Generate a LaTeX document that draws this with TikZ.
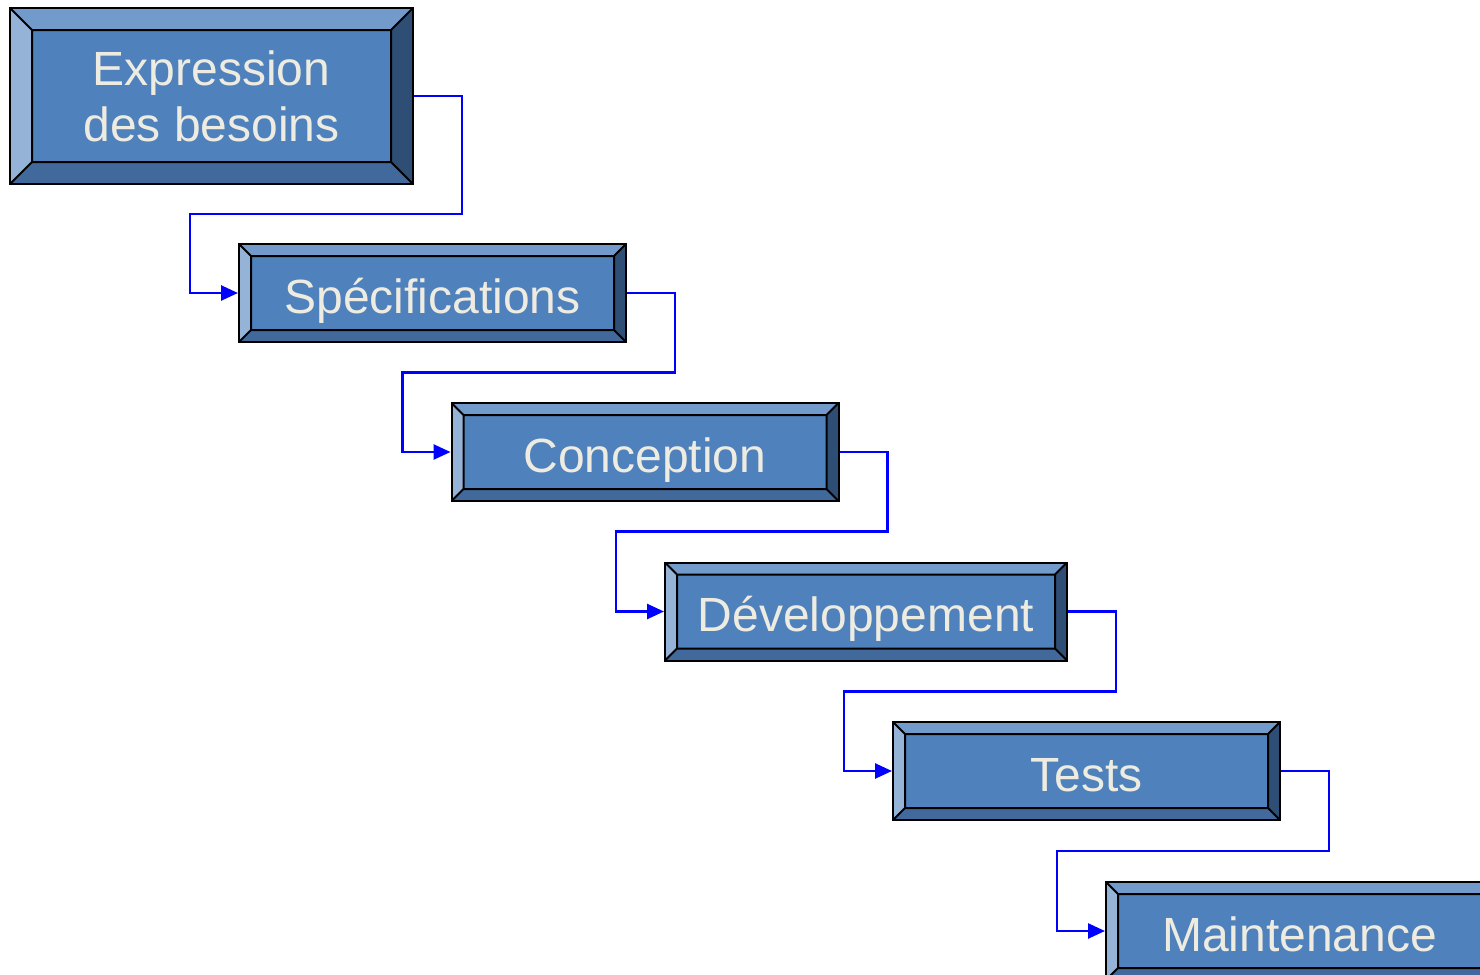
\documentclass[tikz,border=0pt]{standalone}
\usepackage{fontspec}
\setmainfont{Liberation Sans}
\usetikzlibrary{arrows.meta,calc}

\definecolor{face}{HTML}{4F81BD}
\definecolor{bvtop}{HTML}{729ACB}
\definecolor{bvleft}{HTML}{95B3D7}
\definecolor{bvright}{HTML}{2E4E76}
\definecolor{bvbottom}{HTML}{41699B}
\definecolor{cream}{HTML}{EEECE1}

\begin{document}
\begin{tikzpicture}[x=0.5pt,y=-0.5pt,
  flow/.style={draw=blue,line width=1.3pt,-{Triangle[length=8.5pt,width=7.5pt]}},
  bevel/.store in=\bv, bevel=6pt,
  stage/.style={draw=black,line width=1pt,fill=face,text=cream,inner sep=0pt,
    align=center,font=\fontsize{24}{28}\selectfont,
    text height=20pt,text depth=0pt,
    minimum width=193.5pt,minimum height=49pt,
    path picture={
      \coordinate (nw) at (path picture bounding box.north west);
      \coordinate (ne) at (path picture bounding box.north east);
      \coordinate (sw) at (path picture bounding box.south west);
      \coordinate (se) at (path picture bounding box.south east);
      \coordinate (inw) at ([shift={(\bv,-\bv)}]nw);
      \coordinate (ine) at ([shift={(-\bv,-\bv)}]ne);
      \coordinate (isw) at ([shift={(\bv,\bv)}]sw);
      \coordinate (ise) at ([shift={(-\bv,\bv)}]se);
      \fill[bvtop] (nw) -- (ne) -- (ine) -- (inw) -- cycle;
      \fill[bvleft] (nw) -- (inw) -- (isw) -- (sw) -- cycle;
      \fill[bvright] (ne) -- (se) -- (ise) -- (ine) -- cycle;
      \fill[bvbottom] (sw) -- (isw) -- (ise) -- (se) -- cycle;
      \draw[line width=1pt] (inw) rectangle (ise)
        (nw) -- (inw) (ne) -- (ine) (sw) -- (isw) (se) -- (ise);
    }}]
  \useasboundingbox (0,0) rectangle (1480,975);

  \node[stage,bevel=11pt,text height={},text depth={},minimum width=201.5pt,minimum height=88pt] (besoins) at (211.5,96) {Expression\\des besoins};
  \node[stage] (specs) at (432.5,293) {Spécifications};
  \node[stage] (conception) at (645,452) {Conception};
  \node[stage,minimum width=201pt] (dev) at (866,611.5) {Développement};
  \node[stage] (tests) at (1086.5,771) {Tests};
  \node[stage] (maint) at (1299.5,931) {Maintenance};

  \foreach \a/\b in {besoins/specs, specs/conception, conception/dev, dev/tests, tests/maint}
    \draw[flow] (\a.east) -- ++(48,0) |- ($(\a.south)!0.5!(\b.north)$)
      -| ([xshift=-24pt]\b.west) -- (\b.west);
\end{tikzpicture}
\end{document}
